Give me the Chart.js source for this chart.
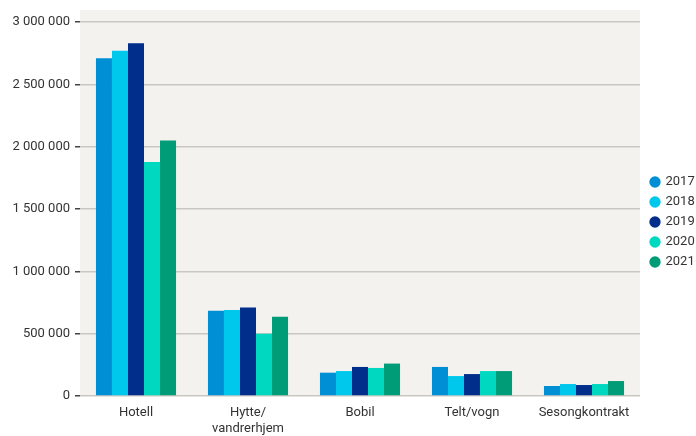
<!DOCTYPE html>
<html>
<head>
<meta charset="utf-8">
<script src="https://cdn.jsdelivr.net/npm/chart.js@4/dist/chart.umd.min.js"></script>
<style>
  html, body { margin: 0; padding: 0; background: #fff; }
  #wrap { width: 696px; height: 436px; position: relative; }
</style>
</head>
<body>
<div id="wrap"><canvas id="chart"></canvas></div>
<script>
'use strict';

// ── Data ──────────────────────────────────────────────────
const CATEGORIES = ['Hotell', ['Hytte/', 'vandrerhjem'], 'Bobil', 'Telt/vogn', 'Sesongkontrakt'];
const YEARS      = ['2017', '2018', '2019', '2020', '2021'];
const V2017 = [2710000, 684000, 187000, 233000, 80000];
const V2018 = [2770000, 690000, 200000, 160000, 96000];
const V2019 = [2830000, 710000, 233000, 176000, 88000];
const V2020 = [1877000, 500000, 225000, 200000, 96000];
const V2021 = [2050000, 636000, 260000, 200000, 120000];
const Y_TICKS = [0, 500000, 1000000, 1500000, 2000000, 2500000, 3000000];

// ── Colors ────────────────────────────────────────────────
const COLORS = ['#008fd5', '#00c8ec', '#002e8a', '#00d9c0', '#009b77'];
const FONT   = { family: "'Roboto', sans-serif", size: 13 };
const TEXT   = '#333333';

const fmt = v => String(v).replace(/\B(?=(\d{3})+(?!\d))/g, ' ');

// plot background, a bit taller than the 3M gridline
const plotBg = {
  id: 'plotBg',
  beforeDraw(chart) {
    const { ctx, chartArea: a } = chart;
    ctx.save();
    ctx.fillStyle = '#f3f2ef';
    ctx.fillRect(a.left, a.top - 12, a.right - a.left, a.bottom - a.top + 12);
    ctx.restore();
  }
};

// nudge the legend up and right a little
const legendShift = {
  id: 'legendShift',
  afterLayout(chart) {
    const lg = chart.legend;
    if (!lg) return;
    lg.top -= 7;  lg.bottom -= 7;
    lg.left += 4; lg.right += 4;
  }
};

new Chart(document.getElementById('chart'), {
  type: 'bar',
  data: {
    labels: CATEGORIES,
    datasets: [V2017, V2018, V2019, V2020, V2021].map((d, i) => ({
      label: YEARS[i],
      data: d,
      backgroundColor: COLORS[i],
      borderWidth: 0,
      barPercentage: 1,
      categoryPercentage: 0.715,
    }))
  },
  options: {
    responsive: true, maintainAspectRatio: false,
    animation: false,
    layout: { padding: { top: 22, right: 0, bottom: 0, left: 0 } },
    plugins: {
      legend: {
        position: 'right',
        maxWidth: 56,
        labels: {
          usePointStyle: true,
          pointStyle: 'circle',
          boxWidth: 8, boxHeight: 8,
          padding: 7,
          font: FONT,
          color: TEXT,
        }
      },
      tooltip: { enabled: false }
    },
    scales: {
      x: {
        grid: { display: false, drawTicks: false },
        border: { display: false },
        ticks: { font: FONT, color: TEXT, padding: 9, maxRotation: 0, autoSkip: false },
        afterFit: s => { s.height = 40; }
      },
      y: {
        min: 0, max: 3000000,
        afterBuildTicks: s => { s.ticks = Y_TICKS.map(v => ({ value: v })); },
        grid: { color: '#c9c7c2', lineWidth: 1.5, tickColor: '#444', tickLength: 5 },
        border: { display: false },
        ticks: { font: FONT, color: TEXT, padding: 5, callback: v => fmt(v) },
        afterFit: s => { s.width = 80; }
      }
    }
  },
  plugins: [plotBg, legendShift]
});
</script>
</body>
</html>
